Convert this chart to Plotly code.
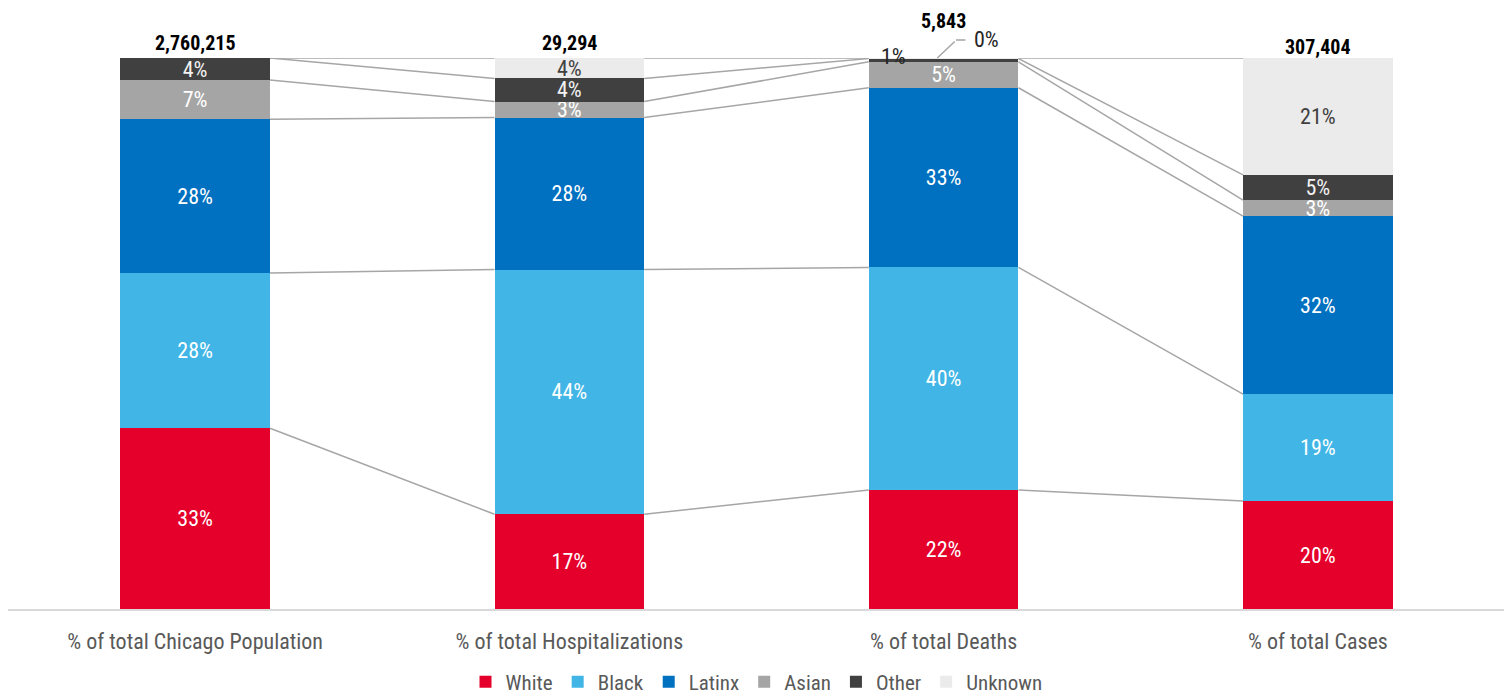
import plotly.graph_objects as go

categories = ['% of total Chicago Population', '% of total Hospitalizations',
              '% of total Deaths', '% of total Cases']
totals = [2760215, 29294, 5843, 307404]

groups = ['White', 'Black', 'Latinx', 'Asian', 'Other', 'Unknown']
white = [32.8, 17.2, 21.6, 19.6]
black = [28.2, 44.4, 40.4, 19.4]
latinx = [27.9, 27.6, 32.6, 32.3]
asian = [7.1, 2.9, 4.7, 2.9]
other = [4.0, 4.2, 0.6, 4.6]
unknown = [0.0, 3.7, 0.1, 21.2]

series = [white, black, latinx, asian, other, unknown]
colors = ['#E4002B', '#41B6E6', '#0070C0', '#A5A5A5', '#404040', '#EBEBEB']
text_colors = ['white', 'white', 'white', 'white', '#F2F2F2', '#404040']

FONT = 'Liberation Sans Narrow, Arial Narrow, Roboto Condensed, sans-serif'
BAR_W = 0.4
x = list(range(len(categories)))

fig = go.Figure()

for name, vals, col, tcol in zip(groups, series, colors, text_colors):
    labels = []
    for i, v in enumerate(vals):
        # tiny death slices get call-out labels instead
        if v == 0 or (i == 2 and name in ('Other', 'Unknown')):
            labels.append('')
        else:
            labels.append(f'{v:.0f}%')
    fig.add_trace(go.Bar(
        x=x, y=vals, name=name, width=BAR_W,
        marker=dict(color=col, line=dict(width=0)),
        text=labels, textposition='inside', insidetextanchor='middle',
        textangle=0, textfont=dict(color=tcol, size=22, family=FONT),
        hoverinfo='skip'
    ))

# series lines joining the top of each segment between neighbouring bars
cum = [0.0] * len(categories)
for vals in series:
    cum = [c + v for c, v in zip(cum, vals)]
    for i in range(len(categories) - 1):
        fig.add_trace(go.Scatter(
            x=[i + BAR_W / 2, i + 1 - BAR_W / 2], y=[cum[i], cum[i + 1]],
            mode='lines', line=dict(color='#A6A6A6', width=1.5),
            hoverinfo='skip', showlegend=False
        ))

# totals above each bar
shifts = [15, 15, 37, 11]
for i, (t, s) in enumerate(zip(totals, shifts)):
    fig.add_annotation(x=i, y=100, text=f'<b>{t:,}</b>', showarrow=False,
                       yshift=s, font=dict(size=20, color='black', family=FONT))

# call-outs for the small death slices
fig.add_annotation(x=2 - 0.135, y=100, text=f'{other[2]:.0f}%', showarrow=False,
                   yshift=2, font=dict(size=22, color='#262626', family=FONT))
fig.add_annotation(x=2 - 0.017, y=100, ax=19, ay=-18, text='',
                   showarrow=True, arrowhead=0, arrowwidth=1.5, arrowcolor='#A6A6A6')
fig.add_annotation(x=2 + 0.033, y=100, yshift=18, ax=11, ay=0, text='',
                   showarrow=True, arrowhead=0, arrowwidth=1.5, arrowcolor='#A6A6A6')
fig.add_annotation(x=2 + 0.075, y=100, text=f'{unknown[2]:.0f}%', showarrow=False,
                   yshift=19, xanchor='left', font=dict(size=22, color='#262626', family=FONT))

# the page body adds an 8px offset, so the figure is 8px smaller than the window
fig.update_layout(
    barmode='stack',
    width=1504, height=686,
    margin=dict(l=0, r=7, t=50, b=85, autoexpand=False),
    plot_bgcolor='white', paper_bgcolor='white',
    font=dict(family=FONT, size=22, color='#595959'),
    uniformtext=dict(mode='show', minsize=22),
    xaxis=dict(range=[-0.5, 3.5], tickvals=x, ticktext=categories, automargin=False,
               showgrid=False, zeroline=False, showline=True, linecolor='#D9D9D9',
               linewidth=1.5, ticks='outside', ticklen=12, tickcolor='rgba(0,0,0,0)',
               tickfont=dict(size=22, color='#595959')),
    yaxis=dict(range=[0, 100], visible=False),
    legend=dict(orientation='h', x=0.5, xanchor='center', y=0.0175, yref='container',
                yanchor='middle', font=dict(size=21, color='#595959'),
                itemwidth=30, traceorder='normal'),
    bargap=0.6
)

fig.write_html('out.html')
